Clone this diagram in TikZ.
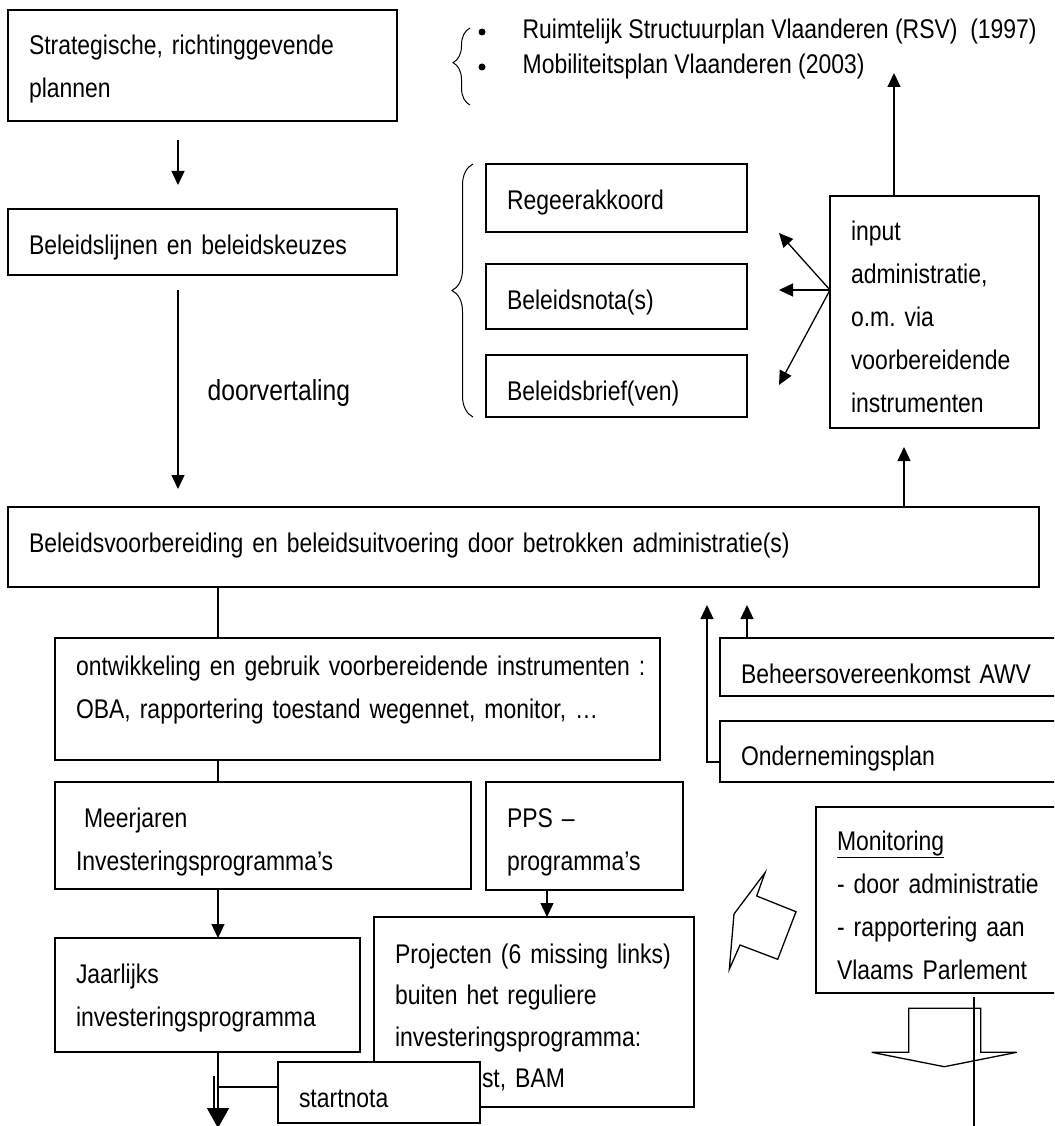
\documentclass[tikz,border=0pt]{standalone}
\usepackage{fontspec}
\setmainfont[FakeStretch=0.85]{Liberation Sans}
\usetikzlibrary{arrows.meta,calc,decorations.pathreplacing}
\hyphenpenalty=10000
\frenchspacing

\begin{document}
\begin{tikzpicture}[
  x=1pt,y=-1pt,
  line width=1.3pt,
  box/.style={draw,line width=1.5pt,anchor=north west,inner xsep=21pt,inner ysep=0pt,
    outer sep=0pt,text height=45pt,align=left,font=\fontsize{27}{43}\selectfont},
  txt/.style={inner sep=0pt,anchor=base west,font=\fontsize{27}{43}\selectfont},
  arr/.style={-{Triangle[width=13pt,length=14pt]}},
  bigarr/.style={-{Triangle[width=22pt,length=20pt]}},
  curly/.style={line width=1pt,decorate,decoration={brace,amplitude=#1}}
]
  \useasboundingbox (0,0) rectangle (1054,1126);
  \clip (0,0) rectangle (1054,1126);

  \node[box,text width=347pt,text depth=66pt] (strat) at (8,10) {Strategische, richtinggevende\\plannen};
  \node[box,text width=347pt,text depth=21pt] (keuzes) at (8,209) {Beleidslijnen en beleidskeuzes};
  \node[box,text width=989pt,text depth=35pt] (main) at (8,507)
    {Beleidsvoorbereiding en beleidsuitvoering door betrokken administratie(s)};

  \node[box,text width=219pt,text depth=23pt] (regeer) at (486,164) {Regeerakkoord};
  \node[box,text width=219pt,text depth=20pt] (nota) at (486,264) {Beleidsnota(s)};
  \node[box,text width=219pt,text depth=17pt] (brief) at (486,355) {Beleidsbrief(ven)};
  \node[box,text width=167pt,text height=44pt,text depth=188pt] (input) at (830,196)
    {input\\administratie,\\o.m. via\\voorbereidende\\instrumenten};

  \node[txt] (rsv) at (522,39) {Ruimtelijk Structuurplan Vlaanderen (RSV)\ \ (1997)};
  \node[txt] (mob) at (522,74) {Mobiliteitsplan Vlaanderen (2003)};
  \fill ($(rsv.base west)+(-40,-7)$) circle (3.5pt);
  \fill ($(mob.base west)+(-40,-7)$) circle (3.5pt);
  \draw[curly=17pt,decoration={aspect=0.55}] (470,105) -- (470,28);
  \draw[curly=21pt] ($(brief.south west)+(-13,0)$) -- ($(regeer.north west)+(-13,0)$);

  \node[box,text width=563pt,text height=37pt,text depth=85pt] (ontw) at (55,638)
    {\mbox{ontwikkeling en gebruik voorbereidende instrumenten :}\\\mbox{OBA, rapportering toestand wegennet, monitor, …}};
  \node[box,text width=374pt,text depth=62pt] (meer) at (55,782)
    {\hspace*{8pt}Meerjaren\\Investeringsprogramma’s};
  \node[box,text width=155pt,text depth=63pt] (pps) at (486,782) {PPS –\\programma’s};
  \node[box,text width=263pt,text depth=69pt] (jaar) at (55,938) {Jaarlijks\\investeringsprogramma};
  \node[box,text width=278pt,text height=46pt,text depth=144pt,font=\fontsize{27}{41.5}\selectfont] (proj) at (374,917)
    {\mbox{Projecten (6 missing links)}\\buiten het reguliere\\investeringsprogramma:\\\hspace*{87pt}st, BAM};
  \node[box,fill=white,text width=160pt,text depth=16pt] (startnota) at (278,1062) {startnota};

  \node[box,text width=358pt,text depth=13pt] (beheer) at (720,638) {Beheersovereenkomst AWV};
  \node[box,text width=358pt,text height=44pt,text depth=17pt] (onder) at (720,721) {Ondernemingsplan};
  \node[box,text width=258pt,text height=43pt,text depth=143pt] (monit) at (816,807)
    {\underline{Monitoring}\\- door administratie\\- rapportering aan\\Vlaams Parlement};

  \draw[arr] ($(strat.south west)+(170,19)$) -- ($(keuzes.north west)+(170,-24)$);
  \draw[arr] ($(keuzes.south west)+(170,15)$) -- ($(main.north west)+(170,-18)$);
  \node[txt,font=\fontsize{29}{30}\selectfont] (doorv) at (207,400) {doorvertaling};

  \draw[arr] ($(main.north west)+(896,0)$) -- ($(input.south west)+(74,19)$);
  \coordinate (plans) at ($(input.north west)+(64,-123)$);
  \draw[arr] ($(input.north west)+(64,0)$) -- (plans);
  \coordinate (fan) at ($(input.north west)+(0,94)$);
  \draw[arr] (fan) -- ($(regeer.east)+(32,35)$);
  \draw[arr] (fan) -- ($(nota.east)+(32,-6.5)$);
  \draw[arr] (fan) -- ($(brief.east)+(32,-1)$);

  \coordinate (ontwtop) at ($(ontw.north west)+(163,0)$);
  \draw (ontwtop) -- (ontwtop |- main.south);
  \coordinate (meertop) at ($(meer.north west)+(163,0)$);
  \draw (meertop) -- (meertop |- ontw.south);
  \coordinate (jaartop) at ($(jaar.north west)+(163,0)$);
  \draw[arr] (jaartop |- meer.south) -- (jaartop);
  \coordinate (projtop) at ($(proj.north west)+(173,0)$);
  \draw[arr] (projtop |- pps.south) -- (projtop);

  \coordinate (jaarbot) at ($(jaar.south west)+(163,0)$);
  \coordinate (down) at ($(jaarbot)+(0,76)$);
  \draw[bigarr] (jaarbot) -- (down);
  \draw ($(jaarbot)+(-4,24)$) -- ($(jaarbot)+(-4,56)$);
  \draw ($(jaarbot)+(0,35)$) -- ($(startnota.west)+(0,-5.5)$);

  \coordinate (bh) at ($(beheer.north west)+(27,0)$);
  \draw[arr] (bh) -- ($(bh |- main.south)+(0,18)$);
  \draw[arr] ($(onder.west)+(0,10.5)$) -| ($(onder.west |- main.south)+(-13,18)$);

  \draw (765,872.7) -- (756.7,896) -- (796,911.7) -- (777.7,959.3) -- (740,945)
    -- (729.3,969.3) -- (734,914) -- cycle;
  \draw (908.7,1008.3) -- (980.7,1008.3) -- (980.7,1052.3) -- (1016.7,1052.3)
    -- (944.3,1066.7) -- (871.7,1052.3) -- (908.7,1052.3) -- cycle;
  \coordinate (mbot) at ($(monit.south west)+(158,4)$);
  \draw (mbot) -- ($(mbot)+(0,130)$);
\end{tikzpicture}
\end{document}
